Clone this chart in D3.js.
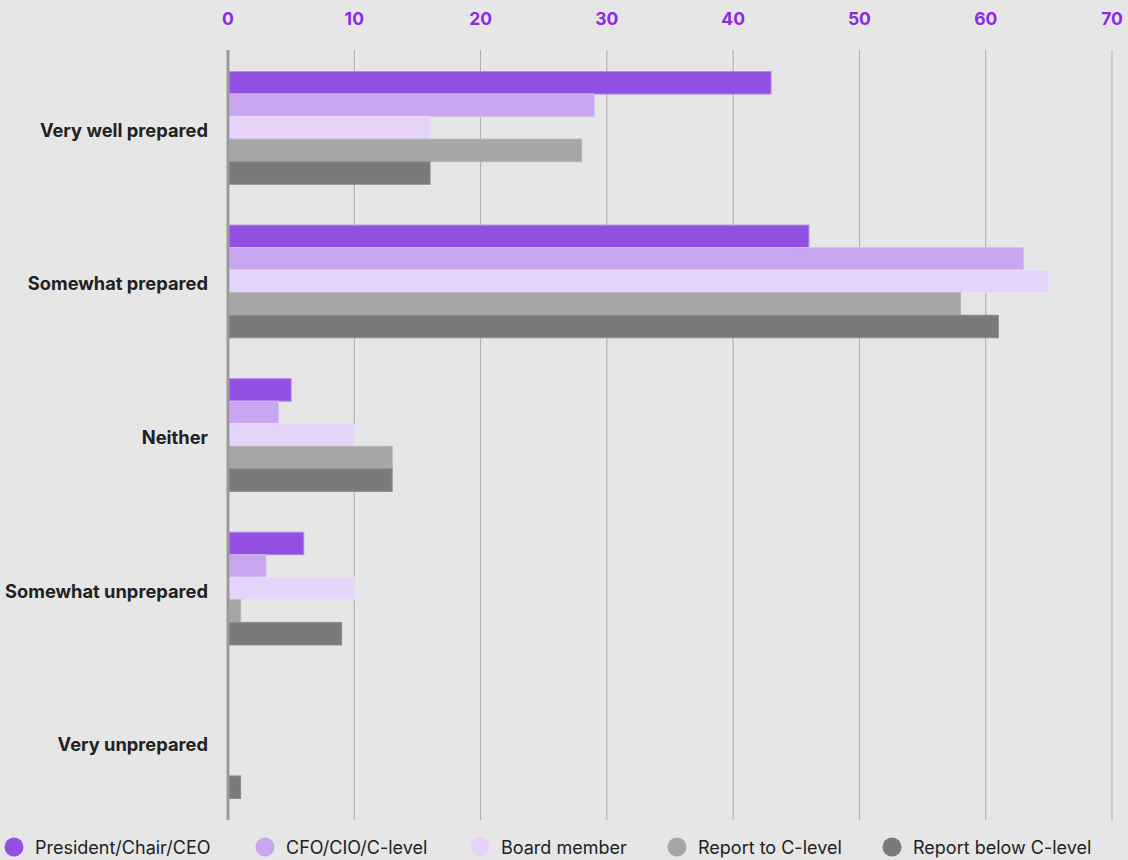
<!DOCTYPE html>
<html>
<head>
<meta charset="utf-8">
<script src="https://cdn.jsdelivr.net/npm/d3@7"></script>
<style>
  body { margin: 0; background: #e6e6e6; }
  svg { display: block; font-family: Inter, "Noto Sans", sans-serif; }
</style>
</head>
<body>
<svg id="svg" width="1128" height="860"></svg>
<script>
const categories = ["Very well prepared", "Somewhat prepared", "Neither", "Somewhat unprepared", "Very unprepared"];
const seriesNames = ["President/Chair/CEO", "CFO/CIO/C-level", "Board member", "Report to C-level", "Report below C-level"];
const colors = ["#9150e1", "#c8a6f0", "#e6d3fa", "#a6a6a6", "#7a7a7a"];
const strokes = ["#b48be8", "#d6bcf4", "#ecdffb", "#b4b4b4", "#8c8c8c"];
const ceo = [43, 46, 5, 6, 0];
const cfo = [29, 63, 4, 3, 0];
const board = [16, 65, 10, 10, 0];
const reportTo = [28, 58, 13, 1, 0];
const reportBelow = [16, 61, 13, 9, 1];
const xTicks = [0, 10, 20, 30, 40, 50, 60, 70];

const series = [ceo, cfo, board, reportTo, reportBelow];

const svg = d3.select("#svg");

const x = d3.scaleLinear().domain([0, 70]).range([228, 1112]);
const y = d3.scaleBand().domain(categories).range([50, 820])
  .paddingInner(0.266).paddingOuter(0.14);
const ySub = d3.scaleBand().domain(d3.range(seriesNames.length)).range([0, y.bandwidth()]);

// grid
svg.append("g")
  .selectAll("line")
  .data(xTicks.slice(1))
  .enter()
  .append("line")
  .attr("x1", d => x(d)).attr("x2", d => x(d))
  .attr("y1", 50).attr("y2", 820)
  .attr("stroke", "#ababab")
  .attr("stroke-width", 1);

// top axis labels
svg.append("g")
  .selectAll("text")
  .data(xTicks)
  .enter()
  .append("text")
  .attr("x", d => x(d))
  .attr("y", 25)
  .attr("text-anchor", "middle")
  .attr("fill", "#8a2be2")
  .attr("font-size", 17.5)
  .attr("font-weight", 700)
  .text(d => d);

// bars
const groups = svg.append("g")
  .selectAll("g")
  .data(categories)
  .enter()
  .append("g")
  .attr("transform", d => "translate(0," + y(d) + ")");

groups.selectAll("rect")
  .data((d, ci) => series.map((s, si) => ({ si, v: s[ci] })).filter(e => e.v > 0))
  .enter()
  .append("rect")
  .attr("x", x(0) + 1)
  .attr("y", d => ySub(d.si))
  .attr("width", d => x(d.v) - x(0) - 1)
  .attr("height", ySub.bandwidth())
  .attr("fill", d => colors[d.si])
  .attr("stroke", d => strokes[d.si])
  .attr("stroke-width", 1);

// zero line
svg.append("line")
  .attr("x1", x(0)).attr("x2", x(0))
  .attr("y1", 50).attr("y2", 820)
  .attr("stroke", "#9a9a9a")
  .attr("stroke-width", 3);

// category labels
svg.append("g")
  .selectAll("text")
  .data(categories)
  .enter()
  .append("text")
  .attr("x", 208)
  .attr("y", d => y(d) + y.bandwidth() / 2 + 9)
  .attr("text-anchor", "end")
  .attr("fill", "#222")
  .attr("font-size", 18.3)
  .attr("font-weight", 700)
  .text(d => d);

// legend
const legendX = [14, 265, 480, 677, 892];
const legend = svg.append("g")
  .selectAll("g")
  .data(seriesNames)
  .enter()
  .append("g")
  .attr("transform", (d, i) => "translate(" + legendX[i] + ",847)");

legend.append("circle")
  .attr("r", 9.5)
  .attr("fill", (d, i) => colors[i]);

legend.append("text")
  .attr("x", 21)
  .attr("y", 6.5)
  .attr("fill", "#222")
  .attr("font-size", 18)
  .text(d => d);
</script>
</body>
</html>
